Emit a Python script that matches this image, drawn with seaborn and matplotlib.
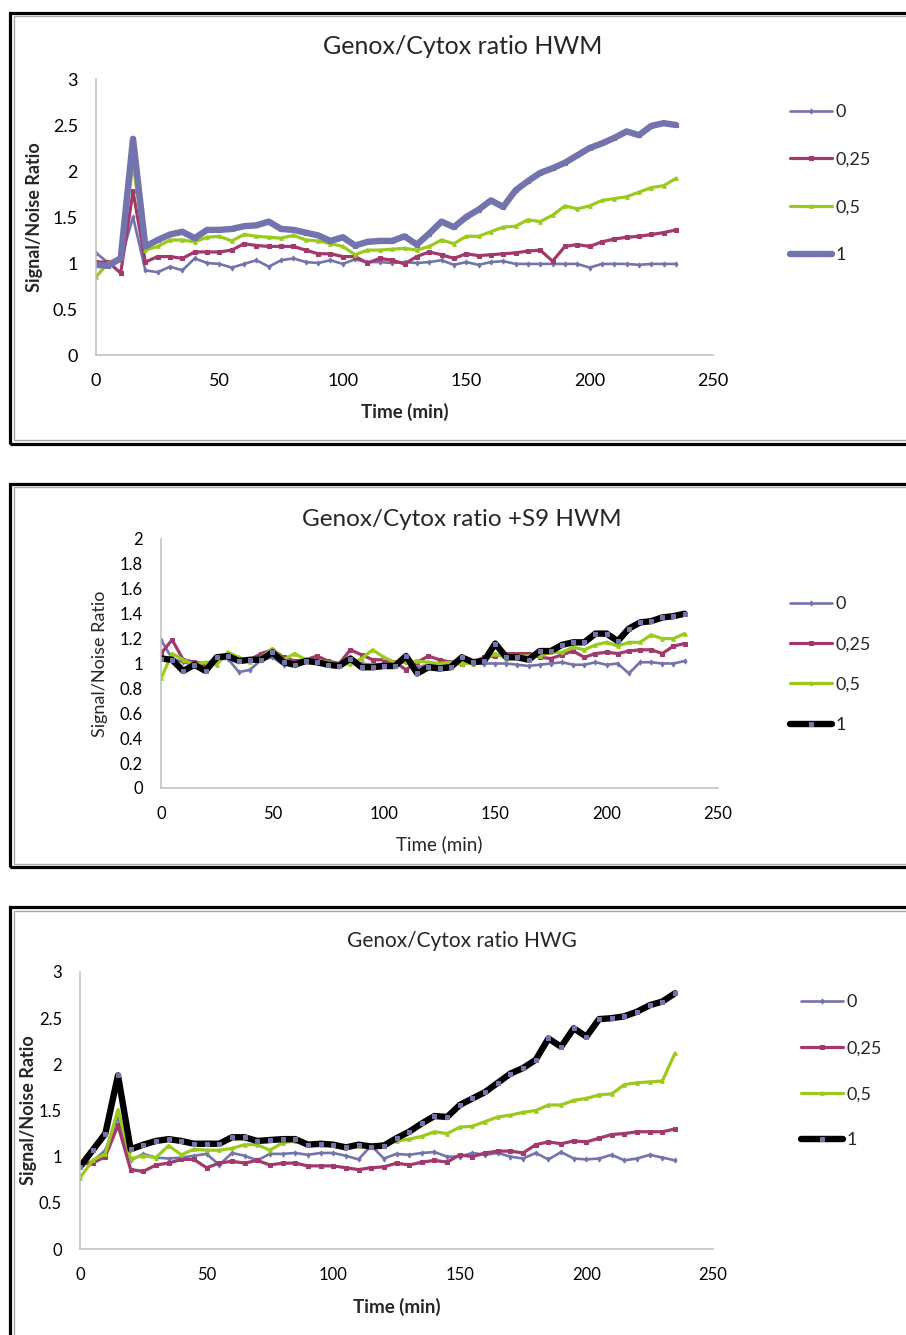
import matplotlib
matplotlib.use("Agg")
import matplotlib.pyplot as plt
from matplotlib.patches import Rectangle
import seaborn as sns

# time axis (min)
times = [0, 5, 10, 15, 20, 25, 30, 35, 40, 45, 50, 55, 60, 65, 70, 75,
         80, 85, 90, 95, 100, 105, 110, 115, 120, 125, 130, 135, 140, 145, 150, 155,
         160, 165, 170, 175, 180, 185, 190, 195, 200, 205, 210, 215, 220, 225, 230, 235]

doses = ["0", "0,25", "0,5", "1"]

# Genox/Cytox ratio HWM
hwm_0 = [1.11, 1.00, 1.03, 1.50, 0.92, 0.90, 0.96, 0.92, 1.05, 1.00, 0.99, 0.95, 0.99, 1.03, 0.96, 1.03,
         1.05, 1.01, 1.00, 1.03, 0.99, 1.04, 1.01, 1.01, 1.00, 1.01, 1.00, 1.01, 1.03, 0.98, 1.01, 0.98,
         1.01, 1.02, 0.99, 0.99, 0.99, 0.99, 0.99, 0.99, 0.95, 0.99, 0.99, 0.99, 0.98, 0.99, 0.99, 0.99]
hwm_025 = [1.01, 1.01, 0.89, 1.78, 1.01, 1.07, 1.07, 1.05, 1.12, 1.12, 1.12, 1.14, 1.21, 1.19, 1.18, 1.18,
           1.18, 1.14, 1.10, 1.10, 1.07, 1.07, 1.00, 1.05, 1.03, 0.99, 1.07, 1.12, 1.09, 1.05, 1.10, 1.08,
           1.09, 1.10, 1.11, 1.13, 1.14, 1.02, 1.18, 1.20, 1.18, 1.23, 1.26, 1.28, 1.29, 1.31, 1.33, 1.36]
hwm_05 = [0.85, 1.00, 1.07, 2.08, 1.14, 1.18, 1.25, 1.25, 1.23, 1.28, 1.29, 1.24, 1.31, 1.29, 1.28, 1.27,
          1.30, 1.25, 1.24, 1.21, 1.18, 1.09, 1.14, 1.14, 1.15, 1.16, 1.14, 1.18, 1.25, 1.21, 1.29, 1.29,
          1.34, 1.39, 1.40, 1.47, 1.45, 1.52, 1.62, 1.59, 1.62, 1.68, 1.70, 1.72, 1.77, 1.82, 1.84, 1.92]
hwm_1 = [0.98, 0.97, 1.05, 2.35, 1.18, 1.25, 1.31, 1.34, 1.27, 1.36, 1.36, 1.37, 1.40, 1.41, 1.45, 1.37,
         1.36, 1.33, 1.30, 1.24, 1.28, 1.19, 1.23, 1.24, 1.24, 1.29, 1.20, 1.32, 1.45, 1.39, 1.50, 1.58,
         1.68, 1.61, 1.79, 1.89, 1.98, 2.03, 2.09, 2.17, 2.25, 2.30, 2.36, 2.43, 2.39, 2.49, 2.52, 2.50]

# Genox/Cytox ratio +S9 HWM
s9_0 = [1.19, 1.04, 1.01, 0.99, 0.99, 1.03, 1.04, 0.93, 0.95, 1.03, 1.05, 0.99, 0.99, 1.03, 1.01, 1.00,
        0.98, 1.01, 1.00, 0.99, 1.00, 1.00, 1.01, 0.97, 0.99, 0.99, 0.99, 1.00, 1.00, 1.00, 1.00, 1.00,
        0.99, 0.98, 0.99, 1.00, 1.01, 0.99, 0.99, 1.01, 0.99, 1.00, 0.92, 1.01, 1.01, 1.00, 1.00, 1.02]
s9_025 = [1.08, 1.19, 1.03, 1.01, 1.00, 1.03, 1.07, 1.03, 1.03, 1.08, 1.11, 1.05, 1.02, 1.03, 1.06, 1.02,
          1.00, 1.11, 1.07, 1.03, 1.03, 1.01, 0.95, 1.01, 1.06, 1.03, 1.01, 1.00, 1.01, 1.05, 1.06, 1.08,
          1.08, 1.08, 1.05, 1.04, 1.07, 1.10, 1.05, 1.08, 1.09, 1.08, 1.10, 1.11, 1.11, 1.08, 1.14, 1.16]
s9_05 = [0.88, 1.08, 1.03, 0.99, 1.01, 0.99, 1.09, 1.05, 1.01, 1.05, 1.12, 1.03, 1.08, 1.03, 1.02, 1.01,
         0.99, 1.00, 1.04, 1.11, 1.05, 1.01, 1.01, 1.02, 1.01, 1.00, 1.01, 1.00, 1.00, 1.03, 1.08, 1.04,
         1.06, 1.06, 1.06, 1.09, 1.09, 1.13, 1.11, 1.15, 1.17, 1.14, 1.17, 1.17, 1.23, 1.20, 1.20, 1.24]
s9_1 = [1.04, 1.03, 0.94, 0.99, 0.94, 1.05, 1.06, 1.02, 1.03, 1.03, 1.09, 1.01, 0.99, 1.02, 1.01, 0.99,
        0.98, 1.04, 0.97, 0.97, 0.98, 0.98, 1.06, 0.92, 0.97, 0.96, 0.97, 1.05, 1.01, 1.02, 1.16, 1.05,
        1.05, 1.03, 1.10, 1.10, 1.15, 1.17, 1.17, 1.24, 1.24, 1.18, 1.28, 1.33, 1.34, 1.37, 1.38, 1.40]

# Genox/Cytox ratio HWG
hwg_0 = [0.91, 0.95, 1.07, 1.43, 0.96, 1.03, 0.99, 0.98, 0.99, 1.01, 1.03, 0.91, 1.04, 1.01, 0.96, 1.03,
         1.03, 1.04, 1.02, 1.04, 1.04, 1.01, 0.97, 1.12, 0.98, 1.03, 1.02, 1.04, 1.05, 1.00, 1.00, 1.04,
         1.02, 1.04, 1.00, 0.98, 1.04, 0.97, 1.05, 0.98, 0.97, 0.98, 1.02, 0.96, 0.98, 1.02, 0.99, 0.96]
hwg_025 = [0.92, 0.93, 1.00, 1.34, 0.86, 0.84, 0.91, 0.93, 0.97, 0.97, 0.88, 0.93, 0.95, 0.93, 0.96, 0.91,
           0.93, 0.93, 0.90, 0.90, 0.90, 0.88, 0.86, 0.88, 0.89, 0.93, 0.91, 0.94, 0.96, 0.94, 1.02, 1.00,
           1.04, 1.06, 1.06, 1.04, 1.13, 1.16, 1.14, 1.17, 1.16, 1.20, 1.24, 1.25, 1.27, 1.27, 1.27, 1.30]
hwg_05 = [0.77, 0.96, 1.03, 1.51, 0.98, 1.01, 0.99, 1.12, 1.02, 1.08, 1.07, 1.07, 1.09, 1.13, 1.13, 1.07,
          1.15, 1.17, 1.14, 1.13, 1.14, 1.12, 1.12, 1.12, 1.14, 1.17, 1.19, 1.22, 1.27, 1.25, 1.32, 1.33,
          1.38, 1.43, 1.45, 1.48, 1.50, 1.56, 1.56, 1.61, 1.63, 1.67, 1.68, 1.78, 1.80, 1.81, 1.82, 2.12]
hwg_1 = [0.89, 1.07, 1.25, 1.88, 1.08, 1.13, 1.17, 1.19, 1.17, 1.14, 1.14, 1.14, 1.21, 1.21, 1.17, 1.18,
         1.19, 1.19, 1.13, 1.14, 1.13, 1.10, 1.13, 1.11, 1.12, 1.20, 1.27, 1.36, 1.44, 1.43, 1.56, 1.63,
         1.70, 1.80, 1.90, 1.96, 2.05, 2.28, 2.19, 2.39, 2.30, 2.49, 2.50, 2.52, 2.57, 2.64, 2.68, 2.77]

x_ticks = [0, 50, 100, 150, 200, 250]
y_ticks_3 = [0, 0.5, 1, 1.5, 2, 2.5, 3]
y_labels_3 = ["0", "0.5", "1", "1.5", "2", "2.5", "3"]
y_ticks_2 = [0, 0.2, 0.4, 0.6, 0.8, 1, 1.2, 1.4, 1.6, 1.8, 2]
y_labels_2 = ["0", "0.2", "0.4", "0.6", "0.8", "1", "1.2", "1.4", "1.6", "1.8", "2"]

SLATE = "#7373AD"
MAROON = "#A2386C"
GREEN = "#9ACA1C"

W, H = 906, 1335

sns.set_theme(style="white")
plt.rcParams['font.family'] = ['Lato', 'DejaVu Sans']

fig = plt.figure(figsize=(W / 100, H / 100), dpi=100)


def box(left, top, right, bottom):
    return [left / W, 1 - bottom / H, (right - left) / W, (bottom - top) / H]


def frame(top, bottom):
    fig.add_artist(Rectangle((10 / W, 1 - bottom / H), 920 / W, (bottom - top) / H,
                             transform=fig.transFigure, fill=False, ec="black", lw=2.3))
    fig.add_artist(Rectangle((13.5 / W, 1 - (bottom - 3.5) / H), 920 / W, (bottom - top - 7) / H,
                             transform=fig.transFigure, fill=False, ec="#a8a8a8", lw=1.0))


def draw_panel(rect, series, top_color, ylim, yticks, ylabels, title, title_xy, title_size,
               bold, tick_size, xlab_y, ylab_x, legend_xy, legend_gap):
    ax = fig.add_axes(box(*rect))
    styles = [
        (SLATE, 1.9, "d", SLATE),
        (MAROON, 2.3, "s", MAROON),
        (GREEN, 2.3, "^", GREEN),
        (top_color, 4.6, "s", SLATE),
    ]
    for vals, lab, (col, lw, mk, mfc) in zip(series, doses, styles):
        sns.lineplot(x=times, y=vals, ax=ax, color=col, linewidth=lw, marker=mk,
                     markersize=2.6, markerfacecolor=mfc, markeredgecolor=mfc,
                     label=lab)
    ax.set_xlim(0, 250)
    ax.set_ylim(*ylim)
    ax.set_xticks(x_ticks)
    ax.set_yticks(yticks)
    ax.set_yticklabels(ylabels)
    ax.tick_params(length=0, labelsize=tick_size, pad=13, colors="black")
    for s in ["top", "right"]:
        ax.spines[s].set_visible(False)
    for s in ["left", "bottom"]:
        ax.spines[s].set_color("#bdbdbd")
        ax.spines[s].set_linewidth(1.1)
    weight = "bold" if bold else "normal"
    ax.set_xlabel("Time (min)", fontsize=13.5, fontweight=weight)
    ax.set_ylabel("Signal/Noise Ratio", fontsize=13, fontweight=weight)
    ax.xaxis.set_label_coords(0.5, xlab_y)
    ax.yaxis.set_label_coords(ylab_x, 0.5)
    fig.text(title_xy[0] / W, 1 - title_xy[1] / H, title, fontsize=title_size,
             ha="center", va="center")
    ax.legend(loc="upper left", bbox_to_anchor=(legend_xy[0] / W, 1 - legend_xy[1] / H),
              bbox_transform=fig.transFigure, frameon=False, fontsize=13,
              handlelength=2.35, handletextpad=0.15, labelspacing=legend_gap,
              borderpad=0, borderaxespad=0)
    return ax


frame(13, 443.5)
draw_panel((96, 79, 713, 355), [hwm_0, hwm_025, hwm_05, hwm_1], SLATE,
           (0, 3), y_ticks_3, y_labels_3, "Genox/Cytox ratio HWM", (463, 47), 18,
           True, 13, -0.172, -0.086, (790, 104), 1.76)

frame(483.5, 867)
draw_panel((161, 539, 718, 788), [s9_0, s9_025, s9_05, s9_1], "black",
           (0, 2), y_ticks_2, y_labels_2, "Genox/Cytox ratio +S9 HWM", (462, 519), 17.5,
           False, 12, -0.19, -0.095, (790, 596), 1.35)

frame(907, 1400)
draw_panel((80, 972, 713, 1249), [hwg_0, hwg_025, hwg_05, hwg_1], "black",
           (0, 3), y_ticks_3, y_labels_3, "Genox/Cytox ratio HWG", (462, 941), 15,
           True, 12, -0.178, -0.068, (801, 994), 1.67)

fig.savefig("out.png", dpi=100, facecolor="white")
